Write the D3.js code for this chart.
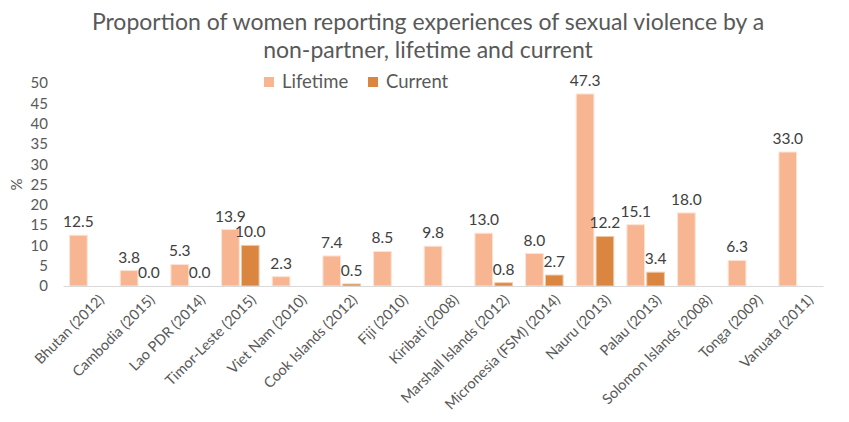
<!DOCTYPE html>
<html>
<head>
<meta charset="utf-8">
<script src="https://cdn.jsdelivr.net/npm/d3@7"></script>
<style>
  body { margin: 0; background: #fff; }
  text { font-family: Lato, "Open Sans", sans-serif; }
</style>
</head>
<body>
<div id="chart"></div>
<script>
// values
const countries = ['Bhutan (2012)', 'Cambodia (2015)', 'Lao PDR (2014)', 'Timor-Leste (2015)',
  'Viet Nam (2010)', 'Cook Islands (2012)', 'Fiji (2010)', 'Kiribati (2008)',
  'Marshall Islands (2012)', 'Micronesia (FSM) (2014)', 'Nauru (2013)', 'Palau (2013)',
  'Solomon Islands (2008)', 'Tonga (2009)', 'Vanuata (2011)']
const lifetime = [12.5, 3.8, 5.3, 13.9, 2.3, 7.4, 8.5, 9.8, 13.0, 8.0, 47.3, 15.1, 18.0, 6.3, 33.0]
const current = [null, 0.0, 0.0, 10.0, null, 0.5, null, null, 0.8, 2.7, 12.2, 3.4, null, null, null]
const seriesNames = ['Lifetime', 'Current']
const yTicks = [0, 5, 10, 15, 20, 25, 30, 35, 40, 45, 50]
const titleLines = ['Proportion of women reporting experiences of sexual violence by a',
  'non-partner, lifetime and current']

const width = 849
const height = 422
const colors = ['#F8B591', '#DA8540']
const margin = {left: 63, right: 26, top: 83, bottom: 136}

const svg = d3.select('#chart')
  .append('svg')
  .attr('width', width)
  .attr('height', height)

const x = d3.scaleBand()
  .domain(countries)
  .range([margin.left, width - margin.right])
const inner = d3.scaleBand()
  .domain(seriesNames)
  .range([x.bandwidth() * 0.13, x.bandwidth() * 0.87])
  .paddingInner(0.11)
const y = d3.scaleLinear()
  .domain([0, 50])
  .range([height - margin.bottom, margin.top])

// title
svg.append('g')
  .selectAll('text')
  .data(titleLines)
  .enter()
  .append('text')
  .attr('x', 428)
  .attr('y', (d, i) => 30 + i * 28)
  .attr('text-anchor', 'middle')
  .style('font-size', '23px')
  .style('fill', '#595959')
  .text(d => d)

// legend
const legend = svg.append('g')
  .selectAll('g')
  .data(seriesNames)
  .enter()
  .append('g')
  .attr('transform', (d, i) => `translate(${264 + i * 104},77)`)
legend.append('rect')
  .attr('width', 10)
  .attr('height', 10)
  .style('fill', (d, i) => colors[i])
legend.append('text')
  .attr('x', 18)
  .attr('y', 11)
  .style('font-size', '18.5px')
  .style('fill', '#595959')
  .text(d => d)

// y axis
const yAxis = svg.append('g')
  .attr('transform', `translate(${margin.left},0)`)
  .call(d3.axisLeft(y).tickValues(yTicks).tickSize(0).tickPadding(15))
yAxis.select('.domain').remove()
yAxis.selectAll('text')
  .style('font-size', '15px')
  .style('fill', '#595959')
  .style('font-family', 'Lato, sans-serif')

svg.append('text')
  .attr('transform', `translate(22,${y(25)}) rotate(-90)`)
  .attr('text-anchor', 'middle')
  .style('font-size', '15px')
  .style('fill', '#595959')
  .text('%')

// bars
const groups = svg.append('g')
  .selectAll('g')
  .data(countries)
  .enter()
  .append('g')
  .attr('transform', d => `translate(${x(d)},0)`)

groups.each(function (d, i) {
  const vals = [lifetime[i], current[i]]
  const g = d3.select(this)
  vals.forEach((v, j) => {
    if (v === null) return
    g.append('rect')
      .attr('x', inner(seriesNames[j]))
      .attr('y', y(v))
      .attr('width', inner.bandwidth())
      .attr('height', y(0) - y(v))
      .style('fill', colors[j])
      .style('stroke', j === 0 ? '#FCE3D4' : '#F1C9A8')
      .style('stroke-width', 1)
    g.append('text')
      .attr('x', inner(seriesNames[j]) + inner.bandwidth() / 2)
      .attr('y', y(v) - 8)
      .attr('text-anchor', 'middle')
      .style('font-size', '15.5px')
      .style('fill', '#404040')
      .text(v.toFixed(1))
  })
})

// x axis
const xAxis = svg.append('g')
  .attr('transform', `translate(0,${y(0)})`)
  .call(d3.axisBottom(x).tickSize(0).tickPadding(10))
xAxis.select('.domain')
  .style('stroke', '#D9D9D9')
  .style('stroke-width', 1)
xAxis.selectAll('text')
  .attr('text-anchor', 'end')
  .attr('dy', '0.35em')
  .attr('transform', 'translate(6,4) rotate(-45)')
  .style('font-size', '14.5px')
  .style('fill', '#595959')
  .style('font-family', 'Lato, sans-serif')
</script>
</body>
</html>
